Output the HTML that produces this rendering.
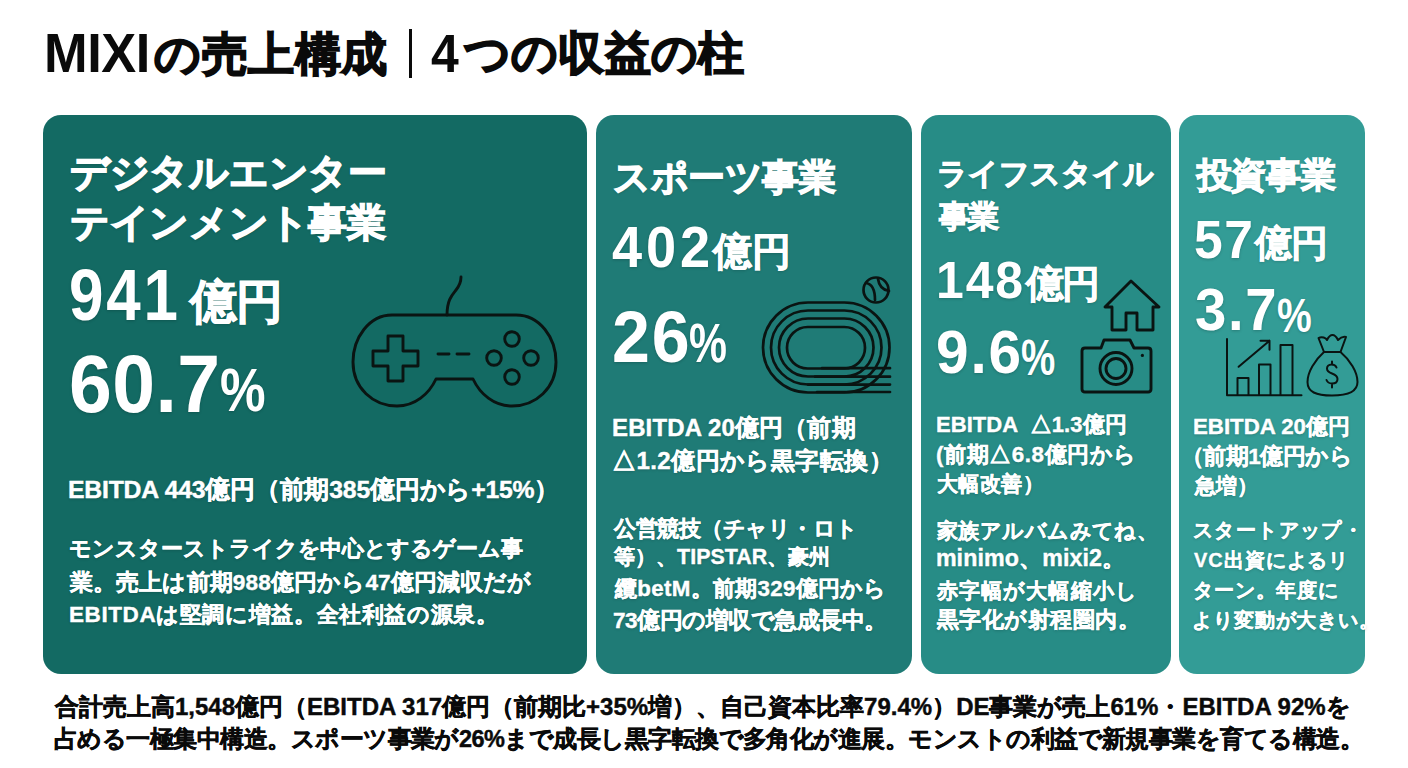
<!DOCTYPE html>
<html lang="ja">
<head>
<meta charset="utf-8">
<style>
html,body{margin:0;padding:0;background:#fff;}
body{width:1408px;height:768px;position:relative;overflow:hidden;font-family:"Liberation Sans",sans-serif;font-weight:bold;color:#fff;}
.t{position:absolute;white-space:nowrap;line-height:1;text-shadow:0 1px 3px rgba(0,20,20,0.22);}
.blk{text-shadow:none;}
.card{position:absolute;top:115px;height:559px;border-radius:18px;}
#c1{left:43px;width:544px;background:#136a63;}
#c2{left:596px;width:316px;background:#1f7b76;}
#c3{left:921px;width:250px;background:#278c86;}
#c4{left:1179px;width:186px;background:#339c96;}
.blk{color:#0a0a0a;}
.jp{-webkit-text-stroke:var(--sw,0) currentColor;}
svg{position:absolute;left:0;top:0;}
</style>
</head>
<body>
<div style="position:absolute;left:409px;top:29px;width:3px;height:48.5px;background:#0a0a0a"></div>
<div class="card" id="c1"></div>
<div class="card" id="c2"></div>
<div class="card" id="c3"></div>
<div class="card" id="c4"></div>
<div class="t blk" id="tA" style="left:44.04px;top:24.94px;font-size:56.32px;letter-spacing:-0.463px;transform:scaleX(0.9300);transform-origin:0 0;">MIXI</div>
<div class="t blk" id="tB" style="left:154.00px;top:31.58px;font-size:45.73px;letter-spacing:0.550px;--sw:1.60px;-webkit-text-stroke:0.82px currentColor;"><span class="jp"><span class="j">の売上構成</span></span></div>
<div class="t blk" id="tC" style="left:431.00px;top:26.98px;font-size:53.81px;transform:scaleX(0.9279);transform-origin:0 0;">4</div>
<div class="t blk" id="tD" style="left:464.00px;top:29.83px;font-size:46.27px;letter-spacing:0.240px;--sw:1.62px;-webkit-text-stroke:0.83px currentColor;"><span class="jp"><span class="j">つの収益の柱</span></span></div>
<div class="t" id="c1t1" style="left:70.01px;top:153.95px;font-size:38.75px;letter-spacing:-0.286px;--sw:1.36px;-webkit-text-stroke:0.70px currentColor;"><span class="jp"><span class="j">デジタルエンター</span></span></div>
<div class="t" id="c1t2" style="left:70.00px;top:203.75px;font-size:38.76px;letter-spacing:-0.286px;--sw:1.36px;-webkit-text-stroke:0.70px currentColor;"><span class="jp"><span class="j">テインメント事業</span></span></div>
<div class="t" id="c1n" style="left:69.28px;top:259.36px;font-size:72.00px;letter-spacing:3.335px;transform:scaleX(0.8600);transform-origin:0 0;">941</div>
<div class="t" id="c1u" style="left:189.96px;top:277.84px;font-size:47.04px;letter-spacing:-1.000px;--sw:0.94px;-webkit-text-stroke:0.85px currentColor;"><span class="jp"><span class="j">億円</span></span></div>
<div class="t" id="c1p" style="left:68.73px;top:343.96px;font-size:80.99px;letter-spacing:0.496px;transform:scaleX(0.9500);transform-origin:0 0;">60.7</div>
<div class="t" id="c1q" style="left:220.09px;top:358.51px;font-size:61.60px;transform:scaleX(0.8317);transform-origin:0 0;">%</div>
<div class="t" id="c1e" style="left:68.02px;top:477.99px;font-size:24.76px;letter-spacing:-0.208px;--sw:0.50px;-webkit-text-stroke:0.45px currentColor;">EBITDA 443<span class="jp"><span class="j">億円</span>（<span class="j">前期</span></span>385<span class="jp"><span class="j">億円から</span></span>+15%<span class="jp">）</span></div>
<div class="t" id="c1d1" style="left:69.04px;top:538.03px;font-size:21.60px;letter-spacing:-0.053px;--sw:0.43px;-webkit-text-stroke:0.39px currentColor;"><span class="jp"><span class="j">モンスターストライクを中心とするゲーム事</span></span></div>
<div class="t" id="c1d2" style="left:70.00px;top:571.63px;font-size:22.63px;letter-spacing:0.114px;--sw:0.45px;-webkit-text-stroke:0.41px currentColor;"><span class="jp"><span class="j">業</span>。<span class="j">売上は前期</span></span>988<span class="jp"><span class="j">億円から</span></span>47<span class="jp"><span class="j">億円減収だが</span></span></div>
<div class="t" id="c1d3" style="left:69.00px;top:604.29px;font-size:22.49px;letter-spacing:0.600px;--sw:0.45px;-webkit-text-stroke:0.40px currentColor;">EBITDA<span class="jp"><span class="j">は堅調に増益</span>。<span class="j">全社利益の源泉</span>。</span></div>
<div class="t" id="c2t" style="left:613.05px;top:159.98px;font-size:36.58px;letter-spacing:-0.440px;--sw:1.28px;-webkit-text-stroke:0.66px currentColor;"><span class="jp"><span class="j">スポーツ事業</span></span></div>
<div class="t" id="c2n" style="left:611.98px;top:219.03px;font-size:57.00px;letter-spacing:4.094px;transform:scaleX(0.9500);transform-origin:0 0;">402</div>
<div class="t" id="c2u" style="left:712.95px;top:231.71px;font-size:38.99px;--sw:0.78px;-webkit-text-stroke:0.70px currentColor;"><span class="jp"><span class="j">億円</span></span></div>
<div class="t" id="c2p" style="left:611.97px;top:301.55px;font-size:71.69px;letter-spacing:1.878px;transform:scaleX(0.9500);transform-origin:0 0;">26</div>
<div class="t" id="c2q" style="left:689.06px;top:315.73px;font-size:55.66px;transform:scaleX(0.7667);transform-origin:0 0;">%</div>
<div class="t" id="c2e1" style="left:612.03px;top:415.87px;font-size:23.96px;letter-spacing:0.154px;--sw:0.48px;-webkit-text-stroke:0.43px currentColor;">EBITDA 20<span class="jp"><span class="j">億円</span>（<span class="j">前期</span></span></div>
<div class="t" id="c2e2" style="left:612.04px;top:448.63px;font-size:24.01px;letter-spacing:0.433px;--sw:0.48px;-webkit-text-stroke:0.43px currentColor;"><span class="jp">△</span>1.2<span class="jp"><span class="j">億円から黒字転換</span>）</span></div>
<div class="t" id="c2d1" style="left:614.02px;top:518.01px;font-size:21.92px;letter-spacing:-0.280px;--sw:0.44px;-webkit-text-stroke:0.39px currentColor;"><span class="jp"><span class="j">公営競技</span>（<span class="j">チャリ・ロト</span></span></div>
<div class="t" id="c2d2" style="left:614.04px;top:546.72px;font-size:21.38px;letter-spacing:0.017px;--sw:0.43px;-webkit-text-stroke:0.38px currentColor;"><span class="jp"><span class="j">等</span>）、</span>TIPSTAR<span class="jp">、<span class="j">豪州</span></span></div>
<div class="t" id="c2d3" style="left:614.98px;top:577.83px;font-size:22.37px;letter-spacing:0.286px;--sw:0.45px;-webkit-text-stroke:0.40px currentColor;"><span class="jp"><span class="j">纜</span></span>betM<span class="jp">。<span class="j">前期</span></span>329<span class="jp"><span class="j">億円から</span></span></div>
<div class="t" id="c2d4" style="left:613.00px;top:609.57px;font-size:22.54px;letter-spacing:-0.467px;--sw:0.45px;-webkit-text-stroke:0.41px currentColor;">73<span class="jp"><span class="j">億円の増収で急成長中</span>。</span></div>
<div class="t" id="c3t1" style="left:937.21px;top:158.74px;font-size:29.92px;letter-spacing:-0.100px;--sw:1.05px;-webkit-text-stroke:0.54px currentColor;"><span class="jp"><span class="j">ライフスタイル</span></span></div>
<div class="t" id="c3t2" style="left:938.95px;top:200.86px;font-size:30.54px;letter-spacing:-2.000px;--sw:1.07px;-webkit-text-stroke:0.55px currentColor;"><span class="jp"><span class="j">事業</span></span></div>
<div class="t" id="c3n" style="left:936.00px;top:253.50px;font-size:52.56px;letter-spacing:2.018px;transform:scaleX(0.9500);transform-origin:0 0;">148</div>
<div class="t" id="c3u" style="left:1026.02px;top:265.85px;font-size:37.95px;letter-spacing:-1.600px;--sw:0.76px;-webkit-text-stroke:0.68px currentColor;"><span class="jp"><span class="j">億円</span></span></div>
<div class="t" id="c3p" style="left:936.14px;top:321.01px;font-size:61.67px;letter-spacing:1.936px;transform:scaleX(0.9500);transform-origin:0 0;">9.6</div>
<div class="t" id="c3q" style="left:1021.17px;top:333.05px;font-size:50.63px;transform:scaleX(0.7622);transform-origin:0 0;">%</div>
<div class="t" id="c3e1" style="left:935.98px;top:413.87px;font-size:22.00px;letter-spacing:0.054px;--sw:0.44px;-webkit-text-stroke:0.40px currentColor;">EBITDA <span class="jp"> △</span>1.3<span class="jp"><span class="j">億円</span></span></div>
<div class="t" id="c3e2" style="left:935.96px;top:443.86px;font-size:22.37px;letter-spacing:0.580px;--sw:0.45px;-webkit-text-stroke:0.40px currentColor;">(<span class="jp"><span class="j">前期</span>△</span>6.8<span class="jp"><span class="j">億円から</span></span></div>
<div class="t" id="c3e3" style="left:937.00px;top:472.55px;font-size:21.07px;letter-spacing:0.450px;--sw:0.42px;-webkit-text-stroke:0.38px currentColor;"><span class="jp"><span class="j">大幅改善</span>）</span></div>
<div class="t" id="c3d1" style="left:937.00px;top:521.00px;font-size:20.88px;letter-spacing:0.422px;--sw:0.42px;-webkit-text-stroke:0.38px currentColor;"><span class="jp"><span class="j">家族アルバムみてね</span>、</span></div>
<div class="t" id="c3d2" style="left:935.88px;top:547.02px;font-size:23.21px;letter-spacing:0.117px;--sw:0.46px;-webkit-text-stroke:0.42px currentColor;">minimo<span class="jp">、</span>mixi2<span class="jp">。</span></div>
<div class="t" id="c3d3" style="left:936.99px;top:580.96px;font-size:21.44px;letter-spacing:1.100px;--sw:0.43px;-webkit-text-stroke:0.39px currentColor;"><span class="jp"><span class="j">赤字幅が大幅縮小し</span></span></div>
<div class="t" id="c3d4" style="left:936.97px;top:608.99px;font-size:21.72px;letter-spacing:0.475px;--sw:0.43px;-webkit-text-stroke:0.39px currentColor;"><span class="jp"><span class="j">黒字化が射程圏内</span>。</span></div>
<div class="t" id="c4t" style="left:1196.91px;top:157.59px;font-size:34.61px;letter-spacing:-0.467px;--sw:1.21px;-webkit-text-stroke:0.62px currentColor;"><span class="jp"><span class="j">投資事業</span></span></div>
<div class="t" id="c4n" style="left:1194.01px;top:213.01px;font-size:54.28px;letter-spacing:1.547px;transform:scaleX(0.9500);transform-origin:0 0;">57</div>
<div class="t" id="c4u" style="left:1255.03px;top:225.63px;font-size:36.76px;letter-spacing:-1.200px;--sw:0.74px;-webkit-text-stroke:0.66px currentColor;"><span class="jp"><span class="j">億円</span></span></div>
<div class="t" id="c4p" style="left:1194.83px;top:280.37px;font-size:59.28px;letter-spacing:1.687px;transform:scaleX(0.9500);transform-origin:0 0;">3.7</div>
<div class="t" id="c4q" style="left:1277.16px;top:291.91px;font-size:47.40px;transform:scaleX(0.8247);transform-origin:0 0;">%</div>
<div class="t" id="c4e1" style="left:1192.98px;top:416.07px;font-size:22.29px;letter-spacing:-0.010px;--sw:0.45px;-webkit-text-stroke:0.40px currentColor;">EBITDA 20<span class="jp"><span class="j">億円</span></span></div>
<div class="t" id="c4e2" style="left:1180.65px;top:446.44px;font-size:22.56px;letter-spacing:-0.500px;--sw:0.45px;-webkit-text-stroke:0.41px currentColor;"><span class="jp">（<span class="j">前期</span></span>1<span class="jp"><span class="j">億円から</span></span></div>
<div class="t" id="c4e3" style="left:1194.94px;top:475.66px;font-size:20.97px;--sw:0.42px;-webkit-text-stroke:0.38px currentColor;"><span class="jp"><span class="j">急増</span>）</span></div>
<div class="t" id="c4d1" style="left:1193.05px;top:520.86px;font-size:19.94px;letter-spacing:1.400px;--sw:0.40px;-webkit-text-stroke:0.36px currentColor;"><span class="jp"><span class="j">スタートアップ・</span></span></div>
<div class="t" id="c4d2" style="left:1193.98px;top:550.56px;font-size:19.94px;letter-spacing:0.971px;--sw:0.40px;-webkit-text-stroke:0.36px currentColor;">VC<span class="jp"><span class="j">出資によるリ</span></span></div>
<div class="t" id="c4d3" style="left:1193.10px;top:580.00px;font-size:20.22px;letter-spacing:0.800px;--sw:0.40px;-webkit-text-stroke:0.36px currentColor;"><span class="jp"><span class="j">ターン</span>。<span class="j">年度に</span></span></div>
<div class="t" id="c4d4" style="left:1192.00px;top:610.02px;font-size:20.00px;letter-spacing:0.900px;--sw:0.40px;-webkit-text-stroke:0.36px currentColor;"><span class="jp"><span class="j">より変動が大きい</span>。</span></div>
<div class="t blk" id="b1" style="left:55.00px;top:694.72px;font-size:24.01px;letter-spacing:-0.006px;--sw:0.48px;-webkit-text-stroke:0.43px currentColor;"><span class="jp"><span class="j">合計売上高</span></span>1,548<span class="jp"><span class="j">億円</span>（</span>EBITDA 317<span class="jp"><span class="j">億円</span>（<span class="j">前期比</span></span>+35%<span class="jp"><span class="j">増</span>）、<span class="j">自己資本比率</span></span>79.4%<span class="jp">）</span>DE<span class="jp"><span class="j">事業が売上</span></span>61%<span class="jp"><span class="j">・</span></span>EBITDA 92%<span class="jp"><span class="j">を</span></span></div>
<div class="t blk" id="b2" style="left:54.02px;top:727.71px;font-size:23.50px;letter-spacing:-0.535px;--sw:0.47px;-webkit-text-stroke:0.42px currentColor;"><span class="jp"><span class="j">占める一極集中構造</span>。<span class="j">スポーツ事業が</span></span>26%<span class="jp"><span class="j">まで成長し黒字転換で多角化が進展</span>。<span class="j">モンストの利益で新規事業を育てる構造</span>。</span></div>
<svg width="1408" height="768" viewBox="0 0 1408 768" fill="none" stroke="#0a1412" stroke-width="2.9" stroke-linecap="round" stroke-linejoin="round">
  <!-- controller -->
  <path d="M392,315 H516 C540,315 556,338 556,362 C556,388 536,406 512,406 C494,406 480,394 473,379 H436 C429,394 415,406 397,406 C373,406 353,388 353,362 C353,338 369,315 392,315 Z"/>
  <path d="M447,315 C447,300 452,295 456,290 C460,285 461,282 461,277"/>
  <path d="M388,336 H403 V351 H418 V366 H403 V381 H388 V366 H373 V351 H388 Z"/>
  <path d="M438,354 H449 M457,354 H469"/>
  <circle cx="512" cy="339" r="7.3"/>
  <circle cx="494" cy="358" r="7.3"/>
  <circle cx="531" cy="358" r="7.3"/>
  <circle cx="512" cy="377" r="7.3"/>
  <!-- track -->
  <g stroke-width="2.7">
    <path d="M817,392 H890 M808,384.6 H890 M815,376.7 H890 M822,368.2 H890"/>
    <rect x="763" y="302.5" width="126.5" height="90" rx="45"/>
    <rect x="771" y="310.5" width="110.5" height="74" rx="37"/>
    <rect x="779" y="318.5" width="94.5" height="58" rx="29"/>
    <rect x="787" y="327" width="78" height="41.5" rx="20.7"/>
    <circle cx="876" cy="290" r="12.5"/>
    <path d="M866,283 C872,284 875,290 875,300 M878,279 C879,286 883,290 889,291"/>
  </g>
  <!-- house -->
  <path d="M1131,281 L1105,307 H1112 V330 H1126 V313 H1137 V330 H1153 V307 H1159 Z"/>
  <!-- camera -->
  <path d="M1085,348 H1101 L1104,340 H1130 L1134,348 H1148 Q1151,348 1151,351 V389 Q1151,392 1148,392 H1085 Q1082,392 1082,389 V351 Q1082,348 1085,348 Z"/>
  <circle cx="1116" cy="368.5" r="16"/>
  <circle cx="1116" cy="368.5" r="10"/>
  <circle cx="1142.4" cy="355.4" r="1.6" fill="#0a1412" stroke="none"/>
  <!-- chart -->
  <g stroke-width="2">
    <path d="M1227,339 V395.3 H1301.5"/>
    <path d="M1237.5,395 V378 H1248.5 V395"/>
    <path d="M1259,395 V364.5 H1270.5 V395"/>
    <path d="M1280.5,395 V345 H1292.5 V395"/>
    <path d="M1238.6,366.8 L1269.5,340.7 M1260.5,340.7 H1269.5 V349.7"/>
    <!-- money bag -->
    <path d="M1324,352 C1315,360 1307.5,372 1307.5,382 C1307.5,392 1316,395.5 1332,395.5 C1348,395.5 1357.5,392 1357.5,382 C1357.5,372 1350,360 1340.5,352 Z"/>
    <path d="M1336.5,367.5 C1335.5,365 1333.5,364.5 1331.5,364.5 C1328.5,364.5 1327,366.5 1327,368.5 C1327,371 1329,372.5 1332,373.5 C1335,374.5 1337.5,376 1337.5,379 C1337.5,381.5 1335.5,383.5 1332,383.5 C1329.5,383.5 1327.5,382.5 1326.5,380 M1332,361.5 V364.5 M1332,383.5 V387.5"/>
    <path d="M1324,352 L1318.5,338 C1322,336 1326,338 1327,340 C1329,336 1331,335 1332.5,335 C1334,335 1336,336 1338,340 C1340,338 1343,336 1346,337 L1340.5,352"/>
  </g>
</svg>
</body>
</html>
